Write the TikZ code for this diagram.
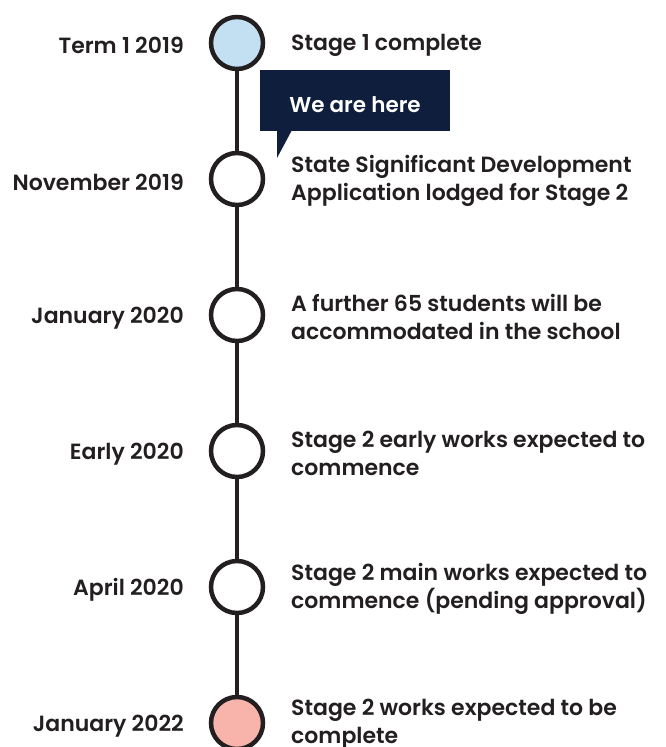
\documentclass[tikz,border=0pt]{standalone}
\usepackage{fontspec}
\setmainfont{Poppins}[BoldFont={Poppins SemiBold}]
\begin{document}
\begin{tikzpicture}[x=1pt,y=-1pt,
  mile/.style={circle,draw=lineblk,line width=4.5pt,minimum size=52pt,inner sep=0pt,fill=white},
  datelbl/.style={anchor=east,inner sep=0pt,font=\fontsize{22}{28}\selectfont\bfseries,text=lineblk},
  desclbl/.style={anchor=west,inner sep=0pt,align=left,font=\fontsize{22}{28}\selectfont\bfseries,text=lineblk}]
\definecolor{lineblk}{HTML}{231F20}
\definecolor{navy}{HTML}{0E1E3C}
\definecolor{lblue}{HTML}{C3E0F2}
\definecolor{lpink}{HTML}{F8B4AA}
\useasboundingbox (0,0) rectangle (666,747);
\coordinate (top) at (237,43);
\coordinate (bot) at (237,723);
\draw[lineblk,line width=4.5pt] (top) -- (bot);
\node[mile,fill=lblue] (m1) at (237,43) {};
\node[mile] (m2) at (237,179) {};
\node[mile] (m3) at (237,315) {};
\node[mile] (m4) at (237,451) {};
\node[mile] (m5) at (237,587) {};
\node[mile,fill=lpink] (m6) at (237,723) {};
\node[datelbl] (d1) at (184,45) {Term 1 2019};
\node[datelbl] (d2) at (184,182) {November 2019};
\node[datelbl] (d3) at (184,318) {January 2020};
\node[datelbl] (d4) at (184,454) {Early 2020};
\node[datelbl] (d5) at (184,590) {April 2020};
\node[datelbl] (d6) at (184,726) {January 2022};
\node[desclbl] (t1) at (291,45) {Stage 1 complete};
\node[desclbl] (t2) at (291,181) {State Significant Development\\Application lodged for Stage 2};
\node[desclbl] (t3) at (291,317) {A further 65 students will be\\accommodated in the school};
\node[desclbl] (t4) at (291,453) {Stage 2 early works expected to\\commence};
\node[desclbl] (t5) at (291,589) {Stage 2 main works expected to\\commence (pending approval)};
\node[desclbl] (t6) at (291,724) {Stage 2 works expected to be\\complete};
\fill[navy] (260,70) rectangle (450,131);
\fill[navy] (277,130) -- (277,158) -- (292,130) -- cycle;
\node[text=white,inner sep=0pt,font=\fontsize{21.5}{28}\selectfont\bfseries] (here) at (355,105) {We are here};
\end{tikzpicture}
\end{document}
